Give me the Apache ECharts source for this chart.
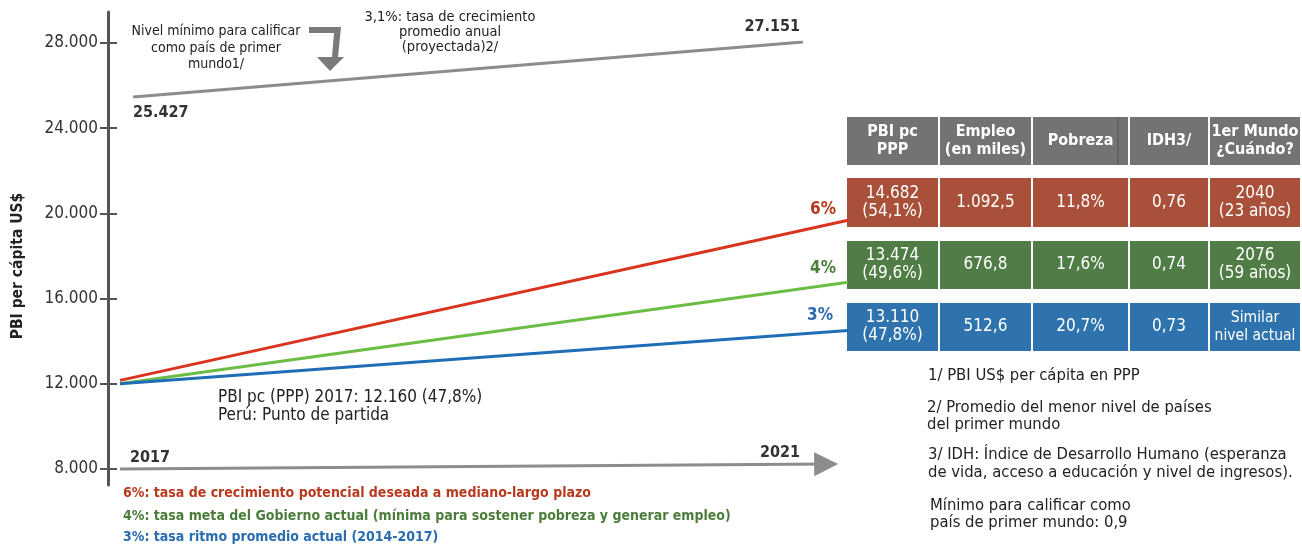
<!DOCTYPE html>
<html>
<head>
<meta charset="utf-8">
<script src="https://cdn.jsdelivr.net/npm/echarts@6/dist/echarts.min.js"></script>
<style>
  html, body { margin: 0; padding: 0; background: #fff; }
  #chart { width: 1302px; height: 548px; }
</style>
</head>
<body>
<div id="chart"></div>
<script>
// datos
const years = [2017, 2021];
const rate6 = [12160, 19680];
const rate4 = [12000, 16770];
const rate3 = [12000, 14500];
const meta31 = [25427, 27151];
const yTicks = [8000, 12000, 16000, 20000, 24000, 28000];

const tableHeader = ['PBI pc\nPPP', 'Empleo\n(en miles)', 'Pobreza', 'IDH3/', '1er Mundo\n¿Cuándo?'];
const row6 = ['14.682\n(54,1%)', '1.092,5', '11,8%', '0,76', '2040\n(23 años)'];
const row4 = ['13.474\n(49,6%)', '676,8', '17,6%', '0,74', '2076\n(59 años)'];
const row3 = ['13.110\n(47,8%)', '512,6', '20,7%', '0,73', 'Similar\nnivel actual'];

const FONT = "'DejaVu Sans Condensed', 'Liberation Sans Narrow', sans-serif";
const RED = '#d9341f', GREEN = '#6cbd45', BLUE = '#1f6db5';
const fmt = v => String(v).replace(/\B(?=(\d{3})+(?!\d))/g, '.');

const chart = echarts.init(document.getElementById('chart'));

// tabla a la derecha
const colX = [[847, 938], [940, 1031], [1033, 1128], [1130, 1208], [1210, 1300]];
const rows = [
  { y: [117, 165], color: '#737373', cells: tableHeader, bold: true },
  { y: [178, 227], color: '#a8503a', cells: row6 },
  { y: [241, 289], color: '#4f7d45', cells: row4 },
  { y: [303, 351], color: '#2e73ae', cells: row3 }
];
const tableGraphics = [];
rows.forEach(r => {
  r.cells.forEach((t, i) => {
    const [x0, x1] = colX[i];
    const long = t.indexOf('nivel actual') >= 0;
    tableGraphics.push({
      type: 'rect', silent: true,
      shape: { x: x0, y: r.y[0], width: x1 - x0, height: r.y[1] - r.y[0] },
      style: { fill: r.color }
    });
    tableGraphics.push({
      type: 'text', silent: true,
      x: (x0 + x1) / 2, y: (r.y[0] + r.y[1]) / 2,
      style: {
        text: t, fill: '#fff', align: 'center', verticalAlign: 'middle',
        font: (r.bold ? 'bold 16px ' : (long ? '15.5px ' : '17px ')) + FONT, lineHeight: 18
      }
    });
  });
});
tableGraphics.push({
  type: 'line', silent: true,
  shape: { x1: 1118, y1: 117, x2: 1118, y2: 165 },
  style: { stroke: '#555', lineWidth: 1 }
});

const txt = (text, x, y, font, opts = {}) => ({
  type: 'text', silent: true, x, y,
  style: Object.assign({ text, font: font + ' ' + FONT, fill: '#222', align: 'left', verticalAlign: 'middle' }, opts)
});

const option = {
  animation: false,
  backgroundColor: '#fff',
  grid: [
    { left: 120, right: 454, top: 12, bottom: 63 },
    { left: 133, right: 499, top: 42, bottom: 451 }
  ],
  xAxis: [
    { type: 'value', gridIndex: 0, min: 2017, max: 2021, show: false },
    { type: 'value', gridIndex: 1, min: 2017, max: 2021, show: false }
  ],
  yAxis: [
    {
      // ticks y etiquetas (cruzan el eje)
      type: 'value', gridIndex: 0, min: 7250, max: 29450, offset: 3,
      axisLine: { show: false },
      axisTick: { show: true, length: 17, customValues: yTicks, lineStyle: { color: '#555', width: 2 } },
      axisLabel: {
        customValues: yTicks, margin: 19, color: '#333', fontSize: 17, fontFamily: FONT,
        formatter: v => fmt(v)
      },
      splitLine: { show: false }
    },
    {
      // línea del eje
      type: 'value', gridIndex: 0, min: 7250, max: 29450, offset: 12, position: 'left',
      axisLine: { show: true, lineStyle: { color: '#555', width: 3 } },
      axisTick: { show: false },
      axisLabel: { show: false },
      splitLine: { show: false }
    },
    { type: 'value', gridIndex: 1, min: 25427, max: 27151, show: false }
  ],
  series: [
    {
      name: '6%', type: 'line', xAxisIndex: 0, yAxisIndex: 0,
      data: years.map((y, i) => [y, rate6[i]]),
      symbol: 'none', lineStyle: { color: RED, width: 3 },
      endLabel: { show: true, formatter: '6%', color: '#b5391e', fontWeight: 'bold', fontSize: 17, fontFamily: FONT, offset: [-46, -11] }
    },
    {
      name: '4%', type: 'line', xAxisIndex: 0, yAxisIndex: 0,
      data: years.map((y, i) => [y, rate4[i]]),
      symbol: 'none', lineStyle: { color: GREEN, width: 3 },
      endLabel: { show: true, formatter: '4%', color: '#4d7f3a', fontWeight: 'bold', fontSize: 17, fontFamily: FONT, offset: [-46, -14] }
    },
    {
      name: '3%', type: 'line', xAxisIndex: 0, yAxisIndex: 0,
      data: years.map((y, i) => [y, rate3[i]]),
      symbol: 'none', lineStyle: { color: BLUE, width: 3 },
      endLabel: { show: true, formatter: '3%', color: '#2a6cad', fontWeight: 'bold', fontSize: 17, fontFamily: FONT, offset: [-49, -15] },
      markLine: {
        silent: true, animation: false,
        symbol: ['none', 'triangle'], symbolSize: [24, 24],
        lineStyle: { color: '#8c8c8c', width: 3, type: 'solid' },
        label: { show: false },
        data: [[{ coord: [2017, 8000] }, { coord: [2020.88, 8230] }]]
      }
    },
    {
      name: '3,1%', type: 'line', xAxisIndex: 1, yAxisIndex: 2,
      data: years.map((y, i) => [y, meta31[i]]),
      symbol: 'none', lineStyle: { color: '#8c8c8c', width: 3 }
    }
  ],
  graphic: [
    txt('PBI per cápita US$', 18, 266, 'bold 15.5px', { align: 'center' }),
    // flecha gris
    {
      type: 'polygon', silent: true,
      shape: { points: [[309, 27], [341, 27], [338, 57], [344, 57], [330, 71], [317, 57], [332, 57], [334, 33], [309, 33]] },
      style: { fill: '#7a7a7a' }
    },
    txt('Nivel mínimo para calificar\ncomo país de primer\nmundo1/', 216, 48, '14px', { align: 'center', lineHeight: 16.5 }),
    txt('3,1%: tasa de crecimiento\npromedio anual\n(proyectada)2/', 450, 32, '14.5px', { align: 'center', lineHeight: 15 }),
    txt('27.151', 800, 27, 'bold 16px', { align: 'right', fill: '#333' }),
    txt('25.427', 133, 113, 'bold 16px', { fill: '#333' }),
    txt('PBI pc (PPP) 2017: 12.160 (47,8%)\nPerú: Punto de partida', 218, 407, '17px', { lineHeight: 18 }),
    txt('2017', 130, 458, 'bold 16px', { fill: '#333' }),
    txt('2021', 800, 453, 'bold 16px', { align: 'right', fill: '#333' }),
    txt('6%: tasa de crecimiento potencial deseada a mediano-largo plazo', 123, 493, 'bold 14px', { fill: '#b83a1e' }),
    txt('4%: tasa meta del Gobierno actual (mínima para sostener pobreza y generar empleo)', 123, 516, 'bold 14px', { fill: '#4a7c3a' }),
    txt('3%: tasa ritmo promedio actual (2014-2017)', 123, 537, 'bold 14px', { fill: '#2a6cb0' }),
    txt('1/ PBI US$ per cápita en PPP', 928, 376, '16.5px'),
    txt('2/ Promedio del menor nivel de países\ndel primer mundo', 927, 416, '16.5px', { lineHeight: 17 }),
    txt('3/ IDH: Índice de Desarrollo Humano (esperanza\nde vida, acceso a educación y nivel de ingresos).', 928, 464, '16.5px', { lineHeight: 18 }),
    txt('Mínimo para calificar como\npaís de primer mundo: 0,9', 930, 514, '16.5px', { lineHeight: 17 })
  ].concat(tableGraphics)
};

// título del eje rotado
option.graphic[0].rotation = Math.PI / 2;

chart.setOption(option);
</script>
</body>
</html>
